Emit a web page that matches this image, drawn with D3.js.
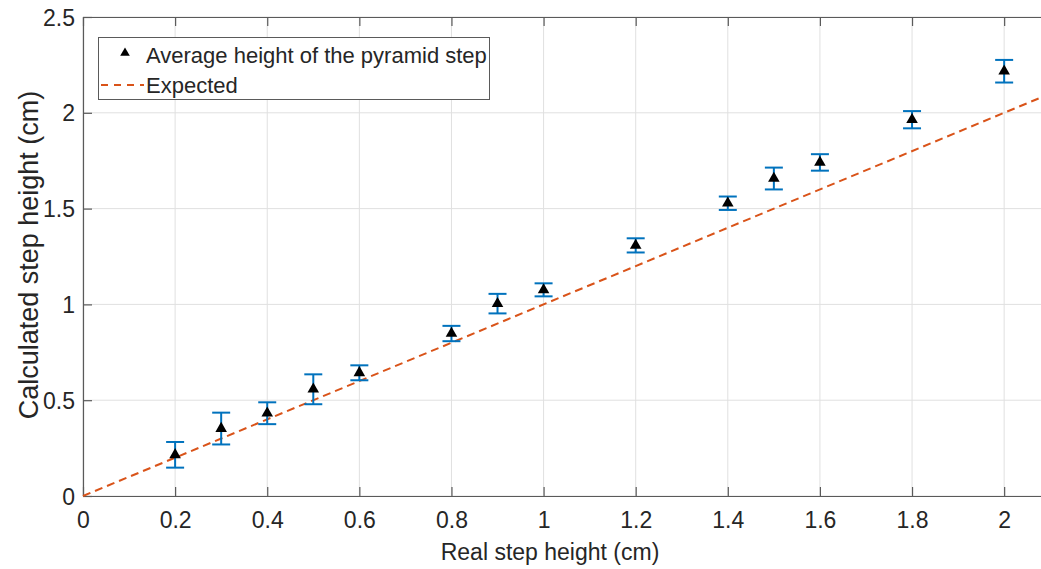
<!DOCTYPE html>
<html><head><meta charset="utf-8">
<script src="https://cdn.jsdelivr.net/npm/d3@7/dist/d3.min.js"></script>
<style>body{margin:0;background:#fff}svg{display:block}text{font-family:"Liberation Sans",Arial,sans-serif;fill:#262626}</style>
</head><body><svg id="c" width="1041" height="569"></svg>
<script>
const realHeight = [0.2,0.3,0.4,0.5,0.6,0.8,0.9,1.0,1.2,1.4,1.5,1.6,1.8,2.0];
const avgHeight  = [0.215,0.352,0.432,0.557,0.643,0.848,1.004,1.076,1.308,1.528,1.657,1.741,1.964,2.217];
const errHeight  = [0.067,0.083,0.057,0.078,0.039,0.040,0.051,0.034,0.037,0.035,0.057,0.043,0.045,0.059];
const expectedX  = [0,2.08];
const xTicks = [0,0.2,0.4,0.6,0.8,1,1.2,1.4,1.6,1.8,2];
const yTicks = [0,0.5,1,1.5,2,2.5];

const svg = d3.select("#c");
const L=83,R=1041,T=17,B=496;
const x = d3.scaleLinear().domain([0,2.08]).range([L,R]);
const y = d3.scaleLinear().domain([0,2.5]).range([B,T]);

// grid
svg.append("g").selectAll("line").data(xTicks).join("line")
  .attr("x1",d=>x(d)).attr("x2",d=>x(d)).attr("y1",T).attr("y2",B)
  .attr("stroke","#e0e0e0").attr("stroke-width",1);
svg.append("g").selectAll("line").data(yTicks).join("line")
  .attr("x1",L).attr("x2",R).attr("y1",d=>y(d)).attr("y2",d=>y(d))
  .attr("stroke","#e0e0e0").attr("stroke-width",1);

// axes
const fmt = d=>d3.format("")(d);
const xAx = svg.append("g").attr("transform",`translate(0,${B})`)
  .call(d3.axisBottom(x).tickValues(xTicks).tickSizeInner(-9).tickSizeOuter(0).tickPadding(16).tickFormat(fmt));
const xTop = svg.append("g").attr("transform",`translate(0,${T})`)
  .call(d3.axisTop(x).tickValues(xTicks).tickSizeInner(-9).tickSizeOuter(0).tickFormat(""));
const yAx = svg.append("g").attr("transform",`translate(${L},0)`)
  .call(d3.axisLeft(y).tickValues(yTicks).tickSizeInner(-9).tickSizeOuter(0).tickPadding(8).tickFormat(fmt));
[xAx,xTop,yAx].forEach(g=>{
  g.select(".domain").attr("stroke","#5a5a5a").attr("stroke-width",1.2);
  g.selectAll(".tick line").attr("stroke","#5a5a5a").attr("stroke-width",1.2);
  g.selectAll("text").style("font-size","23px").attr("fill","#262626");
});
xAx.selectAll("text").attr("y",16).attr("dy","0.71em");
yAx.selectAll("text").attr("dy","0.35em");

// expected line
svg.append("line")
  .attr("x1",x(expectedX[0])).attr("y1",y(expectedX[0]))
  .attr("x2",x(expectedX[1])).attr("y2",y(expectedX[1]))
  .attr("stroke","#D95319").attr("stroke-width",2).attr("stroke-dasharray","8,5");

// error bars
const eb = svg.append("g").attr("stroke","#0072BD").attr("stroke-width",2);
realHeight.forEach((rx,i)=>{
  const cx=x(rx), y1=y(avgHeight[i]+errHeight[i]), y2=y(avgHeight[i]-errHeight[i]);
  eb.append("line").attr("x1",cx).attr("x2",cx).attr("y1",y1).attr("y2",y2);
  eb.append("line").attr("x1",cx-9).attr("x2",cx+9).attr("y1",y1).attr("y2",y1);
  eb.append("line").attr("x1",cx-9).attr("x2",cx+9).attr("y1",y2).attr("y2",y2);
});
// markers
const tri = d3.symbol().type(d3.symbolTriangle).size(58);
svg.append("g").selectAll("path").data(realHeight).join("path")
  .attr("d",tri).attr("transform",(d,i)=>`translate(${x(d)},${y(avgHeight[i])})`)
  .attr("fill","#000");

// axis titles
svg.append("text").attr("x",550).attr("y",560).attr("text-anchor","middle")
  .style("font-size","23px").text("Real step height (cm)");
svg.append("text").attr("transform","translate(38,255) rotate(-90)").attr("text-anchor","middle")
  .style("font-size","27px").text("Calculated step height (cm)");

// legend
const lg = svg.append("g");
lg.append("rect").attr("x",98.5).attr("y",37.5).attr("width",391).attr("height",62)
  .attr("fill","#fff").attr("stroke","#5a5a5a").attr("stroke-width",1);
lg.append("path").attr("d",d3.symbol().type(d3.symbolTriangle).size(40)).attr("transform","translate(125,53)").attr("fill","#000");
lg.append("text").attr("x",146).attr("y",63).style("font-size","22px").text("Average height of the pyramid step");
lg.append("line").attr("x1",101).attr("x2",144).attr("y1",85).attr("y2",85)
  .attr("stroke","#D95319").attr("stroke-width",2).attr("stroke-dasharray","7,6");
lg.append("text").attr("x",146).attr("y",93).style("font-size","22px").text("Expected");
</script></body></html>
